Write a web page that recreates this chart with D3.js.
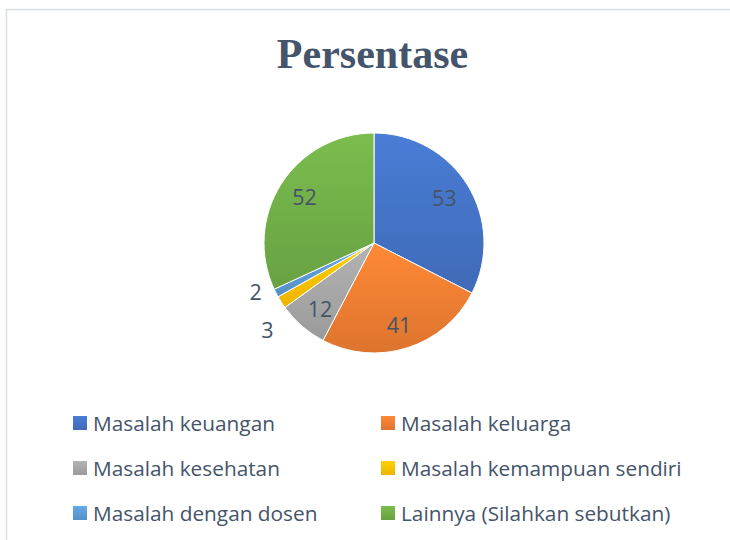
<!DOCTYPE html>
<html>
<head>
<meta charset="utf-8">
<script src="https://cdn.jsdelivr.net/npm/d3@7"></script>
<style>
  body { margin: 0; background: #fff; }
  svg { display: block; }
</style>
</head>
<body>
<script>
// chart data
var categories = ["Masalah keuangan", "Masalah keluarga", "Masalah kesehatan",
                  "Masalah kemampuan sendiri", "Masalah dengan dosen", "Lainnya (Silahkan sebutkan)"];
var values = [53, 41, 12, 3, 2, 52];
var colors = ["#4472C4", "#ED7D31", "#A5A5A5", "#FFC000", "#5B9BD5", "#70AD47"];
var title = "Persentase";

var width = 730, height = 540;
var cx = 374, cy = 243, radius = 110;
var textColor = "#44546A";

var svg = d3.select("body").append("svg")
    .attr("width", width)
    .attr("height", height);

// frame of the chart area (only top and left edges are visible)
svg.append("path")
    .attr("d", "M6.5,540 L6.5,9.5 L730,9.5")
    .attr("fill", "none")
    .attr("stroke", "#D9DEE6")
    .attr("stroke-width", 1.5);

// office-like soft gradients
var defs = svg.append("defs");
colors.forEach(function(c, i) {
    var g = defs.append("linearGradient")
        .attr("id", "grad" + i)
        .attr("x1", 0).attr("y1", 0).attr("x2", 0).attr("y2", 1);
    g.append("stop").attr("offset", "0%").attr("stop-color", d3.color(c).brighter(0.25));
    g.append("stop").attr("offset", "100%").attr("stop-color", d3.color(c).darker(0.2));
});

svg.append("text")
    .attr("x", 372.5)
    .attr("y", 68)
    .attr("text-anchor", "middle")
    .attr("font-family", "'Liberation Serif', 'Times New Roman', serif")
    .attr("font-weight", "bold")
    .attr("font-size", 42)
    .attr("fill", textColor)
    .text(title);

var pie = d3.pie().sort(null).value(function(d) { return d; });
var arcs = pie(values);
var arc = d3.arc().innerRadius(0).outerRadius(radius);
var labelArc = d3.arc().innerRadius(radius * 0.75).outerRadius(radius * 0.75);

var g = svg.append("g")
    .attr("transform", "translate(" + cx + "," + cy + ")");

g.selectAll("path.slice")
    .data(arcs)
    .enter()
    .append("path")
    .attr("class", "slice")
    .attr("d", arc)
    .attr("fill", function(d, i) { return "url(#grad" + i + ")"; })
    .attr("stroke", "#fff")
    .attr("stroke-width", 1);

// labels: inside for big slices, outside (spread apart) for tiny ones
var labels = arcs.map(function(d) {
    var frac = (d.endAngle - d.startAngle) / (2 * Math.PI);
    var mid = (d.startAngle + d.endAngle) / 2;
    if (frac > 0.05) {
        var c = labelArc.centroid(d);
        return { v: d.value, x: c[0], y: c[1], anchor: "middle" };
    }
    var r = radius + 22;
    return { v: d.value, x: Math.sin(mid) * r, y: -Math.cos(mid) * r, anchor: "middle", outside: true };
});

var outside = labels.filter(function(l) { return l.outside; })
    .sort(function(a, b) { return a.y - b.y; });
var minGap = 38;
if (outside.length > 1) {
    var meanY = d3.mean(outside, function(l) { return l.y; });
    var span = (outside.length - 1) * minGap;
    outside.forEach(function(l, i) {
        var ny = meanY - span / 2 + i * minGap;
        l.x = l.x + 2 + (ny - l.y) * 0.2;
        l.y = ny - 1;
    });
}

g.selectAll("text.lbl")
    .data(labels)
    .enter()
    .append("text")
    .attr("class", "lbl")
    .attr("x", function(d) { return d.x; })
    .attr("y", function(d) { return d.y; })
    .attr("dy", function(d) { return d.y > 40 ? "0.55em" : "0.3em"; })
    .attr("text-anchor", function(d) { return d.anchor; })
    .attr("font-family", "'Open Sans', sans-serif")
    .attr("font-size", 21.5)
    .attr("fill", textColor)
    .text(function(d) { return d.v; });

// legend: two columns, three rows
var colX = d3.scaleOrdinal().domain([0, 1]).range([73, 381]);
var rowY = d3.scalePoint().domain([0, 1, 2]).range([423, 513]);

var legend = svg.append("g").attr("class", "legend")
    .selectAll("g")
    .data(categories)
    .enter()
    .append("g")
    .attr("transform", function(d, i) {
        return "translate(" + colX(i % 2) + "," + rowY(Math.floor(i / 2)) + ")";
    });

legend.append("rect")
    .attr("x", 0)
    .attr("y", -7)
    .attr("width", 14)
    .attr("height", 14)
    .attr("fill", function(d, i) { return "url(#grad" + i + ")"; });

legend.append("text")
    .attr("x", 20)
    .attr("y", 0)
    .attr("dy", "0.36em")
    .attr("font-family", "'Open Sans', sans-serif")
    .attr("font-size", 20.8)
    .attr("fill", textColor)
    .text(function(d) { return d; });
</script>
</body>
</html>
